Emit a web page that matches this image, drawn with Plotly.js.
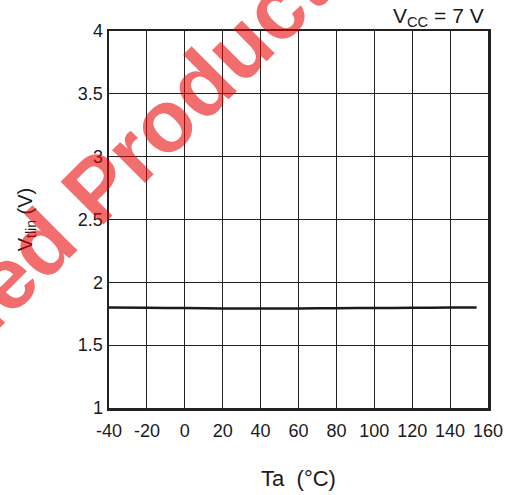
<!DOCTYPE html>
<html>
<head>
<meta charset="utf-8">
<script src="https://cdn.plot.ly/plotly-3.0.1.min.js"></script>
<style>
  html, body { margin: 0; padding: 0; background: #fff; }
  #chart { width: 511px; height: 495px; }
</style>
</head>
<body>
<div id="chart"></div>
<script>
// Data
const temperatureC = [-40, -20, 0, 20, 40, 60, 80, 100, 120, 140, 154];
const vtlinVolts   = [1.800, 1.798, 1.795, 1.792, 1.792, 1.792, 1.794, 1.796, 1.797, 1.799, 1.800];

const xTickValues = [-40, -20, 0, 20, 40, 60, 80, 100, 120, 140, 160];
const xTickLabels = ['-40', '-20', '0', '20', '40', '60', '80', '100', '120', '140', '160'];
const yTickValues = [1, 1.5, 2, 2.5, 3, 3.5, 4];
const yTickLabels = ['1', '1.5', '2', '2.5', '3', '3.5', '4'];

const conditionLabel = 'V<sub>CC</sub> = 7 V';
const watermarkText = 'Discontinued Product';

const FONT = 'Liberation Sans, Arial, Helvetica, sans-serif';

const trace = {
  x: temperatureC,
  y: vtlinVolts,
  type: 'scatter',
  mode: 'lines',
  line: { color: '#1a1a1a', width: 2.5, shape: 'spline', smoothing: 0.6 },
  hoverinfo: 'skip',
  showlegend: false
};

const layout = {
  width: 511,
  height: 495,
  margin: { l: 109, r: 23, t: 31, b: 87, pad: 0 },
  paper_bgcolor: '#ffffff',
  plot_bgcolor: '#ffffff',
  font: { family: FONT, size: 18, color: '#1a1a1a' },
  showlegend: false,
  xaxis: {
    range: [-40, 160],
    tickmode: 'array',
    tickvals: xTickValues,
    ticktext: xTickLabels,
    ticks: '',
    ticklabelstandoff: 5,
    showgrid: true,
    gridcolor: '#222222',
    gridwidth: 1,
    zeroline: false,
    showline: true,
    linecolor: '#222222',
    linewidth: 2.5,
    mirror: true,
    tickfont: { family: FONT, size: 18, color: '#1a1a1a' },
    title: { text: 'Ta\u00a0\u00a0(°C)', font: { family: FONT, size: 22, color: '#1a1a1a' }, standoff: 31 },
    fixedrange: true
  },
  yaxis: {
    range: [1, 4],
    tickmode: 'array',
    tickvals: yTickValues,
    ticktext: yTickLabels,
    ticks: '',
    showgrid: true,
    gridcolor: '#222222',
    gridwidth: 1,
    zeroline: false,
    showline: true,
    linecolor: '#222222',
    linewidth: 2.5,
    mirror: true,
    tickfont: { family: FONT, size: 18, color: '#1a1a1a' },
    title: { text: 'V<sub>tlin</sub> (V)', font: { family: FONT, size: 20, color: '#1a1a1a' }, standoff: 40 },
    fixedrange: true
  },
  annotations: [
    {
      text: conditionLabel,
      xref: 'paper', yref: 'paper',
      x: 0.995, y: 1.037,
      xanchor: 'right', yanchor: 'middle',
      showarrow: false,
      font: { family: FONT, size: 21, color: '#1a1a1a' }
    },
    {
      text: '<b>' + watermarkText + '</b>',
      xref: 'paper', yref: 'paper',
      x: -0.3166, y: 0.2997,
      xanchor: 'center', yanchor: 'middle',
      textangle: -45,
      showarrow: false,
      font: { family: FONT, size: 88, color: 'rgba(232,0,0,0.57)' }
    }
  ]
};

Plotly.newPlot('chart', [trace], layout, { displayModeBar: false, staticPlot: true });
</script>
</body>
</html>
